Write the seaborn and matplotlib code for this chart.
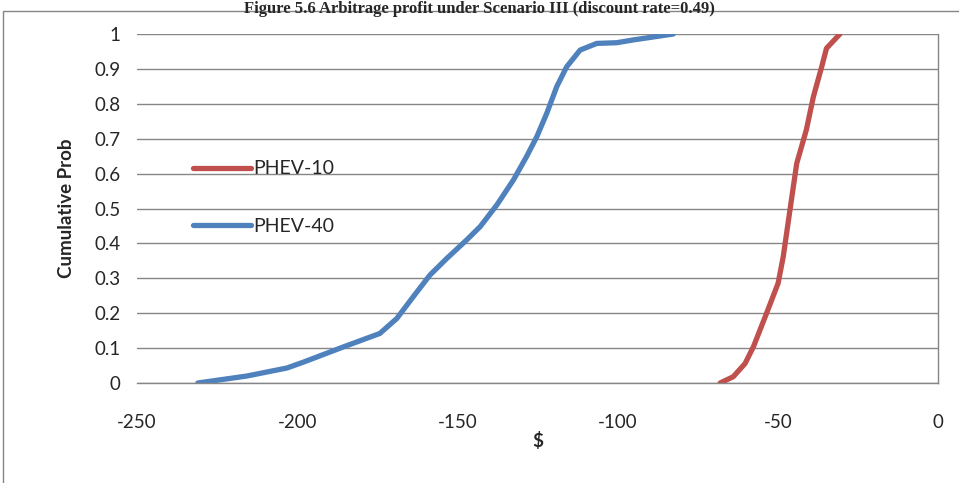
import matplotlib
matplotlib.use("Agg")
import matplotlib.pyplot as plt
import seaborn as sns
import pandas as pd
from matplotlib.patches import Rectangle
from matplotlib.lines import Line2D

# Data
phev10_x = [-68.0, -63.9, -60.2, -57.6, -53.5, -49.9, -48.3, -46.2, -44.1, -41.1,
            -38.9, -36.3, -34.8, -30.6]
phev10_y = [0.0, 0.018, 0.056, 0.104, 0.2, 0.286, 0.362, 0.496, 0.629, 0.725,
            0.82, 0.906, 0.959, 1.0]

phev40_x = [-231.0, -215.7, -203.2, -198.0, -185.7, -174.2, -168.9, -163.8, -158.6, -153.3,
            -147.1, -142.9, -137.7, -132.5, -128.4, -125.2, -122.1, -119.0, -115.9, -111.7,
            -106.5, -100.3, -95.1, -82.6]
phev40_y = [0.0, 0.02, 0.043, 0.06, 0.103, 0.142, 0.185, 0.247, 0.309, 0.357,
            0.41, 0.448, 0.51, 0.582, 0.649, 0.706, 0.773, 0.849, 0.906, 0.954,
            0.973, 0.975, 0.983, 1.0]

series_names = ["PHEV-10", "PHEV-40"]
series_colors = ["#C0504D", "#4F81BD"]
x_ticks = [-250, -200, -150, -100, -50, 0]
y_ticks = [0, 0.1, 0.2, 0.3, 0.4, 0.5, 0.6, 0.7, 0.8, 0.9, 1]
y_tick_labels = ["0", "0.1", "0.2", "0.3", "0.4", "0.5", "0.6", "0.7", "0.8", "0.9", "1"]

df = pd.concat([
    pd.DataFrame({"x": phev10_x, "y": phev10_y, "series": series_names[0]}),
    pd.DataFrame({"x": phev40_x, "y": phev40_y, "series": series_names[1]}),
])

sns.set_theme(style="white")
plt.rcParams["font.family"] = ["Lato", "DejaVu Sans"]

fig = plt.figure(figsize=(9.59, 4.83), dpi=100)
ax = fig.add_axes([137/959, 1 - 383/483, (938-137)/959, (383-34)/483])

sns.lineplot(data=df, x="x", y="y", hue="series", palette=series_colors,
             hue_order=series_names, sort=False, estimator=None,
             linewidth=3.8, ax=ax, legend=False)
for l in ax.lines:
    l.set_solid_capstyle("round")
    l.set_solid_joinstyle("round")

ax.set_xlim(-250, 0)
ax.set_ylim(0, 1)
ax.set_xticks(x_ticks)
ax.set_xticklabels([str(t) for t in x_ticks])
ax.set_yticks(y_ticks)
ax.set_yticklabels(y_tick_labels)
ax.tick_params(axis="x", direction="in", length=7, width=1, color="#868686",
               labelsize=13.5, pad=22)
ax.tick_params(axis="y", length=0, labelsize=13.5, pad=12)
ax.grid(axis="y", color="#868686", linewidth=1)
ax.set_axisbelow(True)
for s in ["left", "top"]:
    ax.spines[s].set_visible(False)
for s in ["right", "bottom"]:
    ax.spines[s].set_color("#868686")
    ax.spines[s].set_linewidth(1)

ax.set_xlabel("$", fontsize=13.5, fontweight="bold", labelpad=1)
ax.set_ylabel("Cumulative Prob", fontsize=13.5, fontweight="bold", labelpad=14)

handles = [Line2D([], [], color=c, linewidth=3.8, solid_capstyle="round") for c in series_colors]
ax.legend(handles, series_names, loc="upper left", bbox_to_anchor=(0.06, 0.66),
          frameon=False, fontsize=14, handlelength=3.0, handletextpad=0.1,
          labelspacing=2.1, borderaxespad=0)

fig.add_artist(Rectangle((3/959, -0.05), 1.2, 1 - 11/483 + 0.05, transform=fig.transFigure,
                         fill=False, edgecolor="#868686", linewidth=1))
fig.text(0.5, 1 - 1/483, "Figure 5.6 Arbitrage profit under Scenario III (discount rate=0.49)",
         ha="center", va="top", fontsize=12, fontweight="bold",
         family=["Liberation Serif", "DejaVu Serif"])

fig.savefig("out.png", dpi=100)
